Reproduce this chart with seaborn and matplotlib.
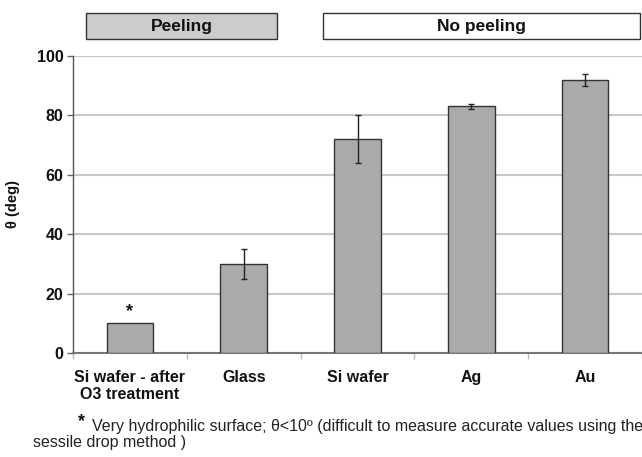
import matplotlib
matplotlib.use("Agg")
import matplotlib.pyplot as plt
import seaborn as sns
import pandas as pd
from matplotlib.patches import Rectangle

categories = ["Si wafer - after\nO3 treatment", "Glass", "Si wafer", "Ag", "Au"]
angles = [10, 30, 72, 83, 92]
errors = [0, 5, 8, 1, 2]
yticks = [0, 20, 40, 60, 80, 100]

sns.set_theme(style="white")
plt.rcParams['font.family'] = ['Liberation Sans', 'DejaVu Sans']

df = pd.DataFrame({"cat": categories, "theta": angles})

fig = plt.figure(figsize=(6.42, 4.57), dpi=100)
ax = fig.add_axes([73 / 642, 104 / 457, 1 - 73 / 642, 297 / 457])

sns.barplot(data=df, x="cat", y="theta", color="#aaaaaa", edgecolor="#333333",
            linewidth=1.0, width=0.41, errorbar=None, ax=ax, saturation=1, zorder=3)

xs = list(range(len(categories)))
ax.errorbar(xs[1:], angles[1:], yerr=errors[1:], fmt="none", ecolor="#222222",
            elinewidth=1.0, capsize=2.5, capthick=1.0, zorder=4)

ax.text(0, angles[0] + 1.2, "*", ha="center", va="bottom", fontsize=13,
        fontweight="bold", color="#111111")

ax.set_ylim(0, 100)
ax.set_xlim(-0.5, (642 - 131) / 115.3)
ax.set_yticks(yticks)
ax.set_yticklabels([str(v) for v in yticks], fontsize=11.5, fontweight="bold", color="#111111")
ax.set_xticks(xs)
ax.set_xticklabels(categories, fontsize=11.5, fontweight="bold", color="#111111")
ax.set_xticks([i - 0.5 for i in range(len(categories) + 1)], minor=True)
ax.tick_params(axis="x", which="major", length=0, pad=12)
ax.tick_params(axis="x", which="minor", length=4, color="#bbbbbb", width=1, direction="out", bottom=True)
ax.tick_params(axis="y", which="major", length=4, color="#666666", width=1, direction="out", left=True, pad=3)

ax.set_xlabel("")
ax.set_ylabel("θ (deg)", fontsize=10.5, fontweight="bold", color="#111111")
ax.yaxis.set_label_coords(-(73 - 20) / 569, 0.5)

ax.yaxis.grid(True, color="#c8c8c8", linewidth=1.5, zorder=0)
ax.set_axisbelow(True)
for s in ["top", "right"]:
    ax.spines[s].set_visible(False)
ax.spines["left"].set_color("#555555")
ax.spines["left"].set_linewidth(1.0)
ax.spines["bottom"].set_color("#777777")
ax.spines["bottom"].set_linewidth(1.5)

def box(x0, x1, fc, label):
    fig.patches.append(Rectangle((x0 / 642, 1 - 39 / 457), (x1 - x0) / 642, 26 / 457,
                                 transform=fig.transFigure, facecolor=fc,
                                 edgecolor="#333333", linewidth=1.0))
    fig.text((x0 + x1) / 2 / 642, 1 - 26.5 / 457, label, ha="center", va="center",
             fontsize=12.5, fontweight="bold", color="#111111")

box(86, 277, "#cccccc", "Peeling")
box(323, 640, "#ffffff", "No peeling")

fig.text(78 / 642, 1 - 422 / 457, "*", fontsize=13, fontweight="bold", color="#111111",
         ha="left", va="center")
fig.text(92 / 642, 1 - 427 / 457,
         "Very hydrophilic surface; θ<10º (difficult to measure accurate values using the",
         fontsize=11.5, color="#222222", ha="left", va="center")
fig.text(33 / 642, 1 - 442 / 457, "sessile drop method )", fontsize=11.5, color="#222222",
         ha="left", va="center")

fig.savefig("out.png", dpi=100)
